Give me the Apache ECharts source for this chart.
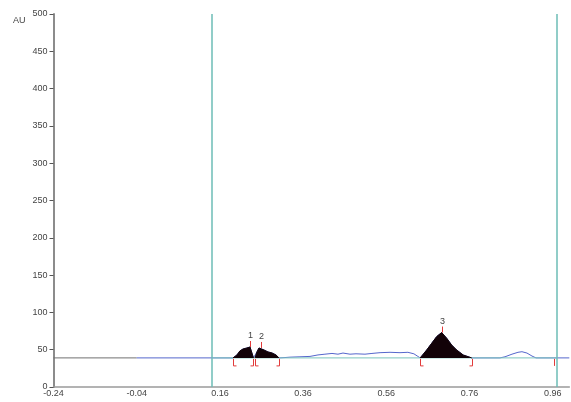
<!DOCTYPE html>
<html>
<head>
<meta charset="utf-8">
<script src="https://cdn.jsdelivr.net/npm/echarts@6/dist/echarts.min.js"></script>
<style>
  html, body { margin: 0; padding: 0; background: #fff; }
  #chart { width: 571px; height: 402px; }
</style>
</head>
<body>
<div id="chart"></div>
<script>
// Axis tick labels
const xTicks = [-0.24, -0.04, 0.16, 0.36, 0.56, 0.76, 0.96];
const yTicks = [0, 50, 100, 150, 200, 250, 300, 350, 400, 450, 500];

// Detector baseline level (AU)
const baselineLevel = 39;
// Integration window (vertical markers)
const windowStart = 0.143;
const windowEnd = 0.97;

// Trace before the detector segment (grey)
const preTraceX = [-0.24, -0.04];
const preTraceY = [39, 39];

// Signal trace, pieces between the peaks
const traceAX = [-0.04, 0.1915];
const traceAY = [39, 39];
const traceBX = [0.302, 0.3165, 0.3286, 0.3525, 0.3766, 0.3958, 0.4126, 0.4295, 0.4439, 0.4559, 0.4727, 0.4872, 0.5088, 0.5256, 0.545, 0.569, 0.593, 0.612, 0.6264, 0.636, 0.6415];
const traceBY = [39, 39.5, 40, 40.5, 41, 43, 44, 45, 44, 45.5, 44, 44.5, 44, 45, 46, 46.5, 46, 46.5, 44.5, 41, 39];
const traceCX = [0.7653, 0.8333, 0.8454, 0.8622, 0.8766, 0.8862, 0.8982, 0.9103, 0.9199, 1.0];
const traceCY = [39, 39, 40.5, 44, 46.5, 47.3, 45.5, 41.5, 39, 39];

// Peaks
const peak1X = [0.1915, 0.201, 0.208, 0.2155, 0.225, 0.2324, 0.237, 0.2408];
const peak1Y = [39, 42.9, 48.3, 50.9, 52.3, 53.6, 51, 39];
const peak2X = [0.2444, 0.249, 0.254, 0.2588, 0.266, 0.2756, 0.2853, 0.295, 0.302];
const peak2Y = [39, 47, 52.3, 52.3, 49.6, 47, 45.6, 42.9, 39];
const peak3X = [0.6415, 0.6571, 0.6691, 0.6812, 0.6932, 0.7052, 0.7172, 0.7292, 0.745, 0.7653];
const peak3Y = [39, 49.6, 58.6, 67.6, 73, 65.4, 56.3, 49.6, 42.9, 39];

// Peak apex markers
const peakNames = ['1', '2', '3'];
const peakApexX = [0.2324, 0.2588, 0.6932];
const peakApexY = [53.6, 52.3, 73];

// Peak start / end markers
const boundX = [0.1915, 0.2408, 0.2444, 0.302, 0.6415, 0.7653, 0.963];
const boundKind = ['start', 'end', 'start', 'end', 'start', 'end', 'tick'];

const zip = (xs, ys) => xs.map((x, i) => [x, ys[i]]);

const signal = [].concat(
  zip(traceAX, traceAY),
  zip(peak1X, peak1Y),
  zip(peak2X, peak2Y),
  zip(traceBX, traceBY),
  zip(peak3X, peak3Y),
  zip(traceCX, traceCY)
);

const textColor = '#444';
const font = 'Liberation Sans, Arial, sans-serif';

function peakSeries(xs, ys) {
  return {
    type: 'line',
    data: zip(xs, ys),
    symbol: 'none',
    lineStyle: { color: '#120208', width: 1 },
    areaStyle: { color: '#120208', opacity: 1, origin: baselineLevel },
    z: 5,
    silent: true
  };
}

const chart = echarts.init(document.getElementById('chart'), null, { renderer: 'canvas' });

chart.setOption({
  animation: false,
  backgroundColor: '#fff',
  grid: { left: 53.5, right: 1.7, top: 14, bottom: 15, containLabel: false },
  xAxis: {
    type: 'value',
    min: -0.24,
    max: 1.0,
    axisLine: { show: true, onZero: false, lineStyle: { color: '#9a9a9a', width: 1.5 } },
    axisTick: { show: false },
    splitLine: { show: false },
    axisLabel: {
      customValues: xTicks,
      formatter: v => v.toFixed(2),
      color: textColor,
      fontSize: 9,
      fontFamily: font,
      margin: 2
    }
  },
  yAxis: {
    type: 'value',
    min: 0,
    max: 500,
    interval: 50,
    axisLine: { show: true, onZero: false, lineStyle: { color: '#8c8c8c', width: 2 } },
    axisTick: { show: true, inside: false, length: 4, lineStyle: { color: '#555', width: 1 } },
    splitLine: { show: false },
    axisLabel: {
      customValues: yTicks,
      color: textColor,
      fontSize: 9,
      fontFamily: font,
      margin: 6
    }
  },
  graphic: [{
    type: 'text',
    left: 13,
    top: 16,
    style: { text: 'AU', fill: textColor, font: '9px ' + font }
  }],
  series: [
    {
      type: 'line',
      data: zip(preTraceX, preTraceY),
      symbol: 'none',
      lineStyle: { color: '#707070', width: 1 },
      z: 2,
      silent: true
    },
    {
      type: 'line',
      data: signal,
      symbol: 'none',
      lineStyle: { color: '#5566cc', width: 1 },
      z: 2,
      silent: true,
      markLine: {
        silent: true,
        symbol: 'none',
        label: { show: false },
        lineStyle: { color: '#6cbdb6', width: 1.5, type: 'solid' },
        data: [{ xAxis: windowStart }, { xAxis: windowEnd }]
      }
    },
    {
      type: 'line',
      data: [[windowStart, baselineLevel], [windowEnd, baselineLevel]],
      symbol: 'none',
      lineStyle: { color: '#7cc4bd', width: 1 },
      z: 3,
      silent: true
    },
    peakSeries(peak1X, peak1Y),
    peakSeries(peak2X, peak2Y),
    peakSeries(peak3X, peak3Y),
    {
      type: 'custom',
      silent: true,
      z: 6,
      data: boundX.map((x, i) => [x, baselineLevel, i]),
      renderItem: function (params, api) {
        const p = api.coord([api.value(0), api.value(1)]);
        const kind = boundKind[api.value(2)];
        const x = Math.round(p[0]) + 0.5;
        const y0 = p[1] + 1;
        const y1 = p[1] + 8;
        const children = [{
          type: 'line',
          shape: { x1: x, y1: y0, x2: x, y2: y1 },
          style: { stroke: '#e23b3b', lineWidth: 1 }
        }];
        if (kind !== 'tick') {
          const dx = kind === 'start' ? 3 : -3;
          children.push({
            type: 'line',
            shape: { x1: x, y1: y1, x2: x + dx, y2: y1 },
            style: { stroke: '#e23b3b', lineWidth: 1 }
          });
        }
        return { type: 'group', children: children };
      }
    },
    {
      type: 'custom',
      silent: true,
      z: 6,
      data: peakApexX.map((x, i) => [x, peakApexY[i], i]),
      renderItem: function (params, api) {
        const p = api.coord([api.value(0), api.value(1)]);
        const x = Math.round(p[0]) + 0.5;
        return {
          type: 'group',
          children: [
            {
              type: 'line',
              shape: { x1: x, y1: p[1], x2: x, y2: p[1] - 6 },
              style: { stroke: '#e23b3b', lineWidth: 1 }
            },
            {
              type: 'text',
              x: x,
              y: p[1] - 7,
              style: {
                text: peakNames[api.value(2)],
                fill: textColor,
                font: '9px ' + font,
                align: 'center',
                verticalAlign: 'bottom'
              }
            }
          ]
        };
      }
    }
  ]
});
</script>
</body>
</html>
